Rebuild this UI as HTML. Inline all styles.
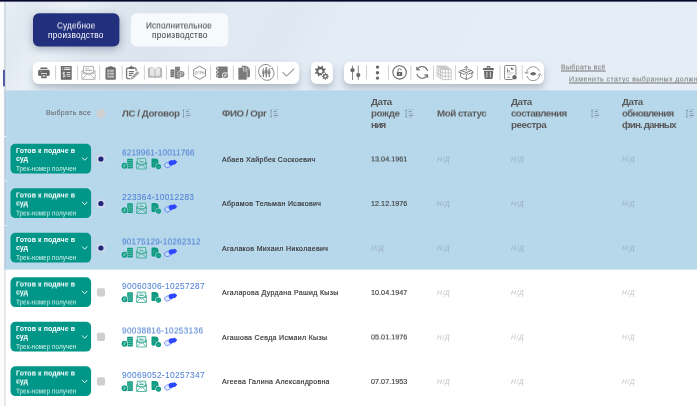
<!DOCTYPE html>
<html lang="ru"><head><meta charset="utf-8"><title>Судебное производство</title>
<style>
html,body{margin:0;padding:0;width:697px;height:406px;overflow:hidden;background:#fff;}
#page{position:relative;width:697px;height:406px;overflow:hidden;background:#fff;font-family:"Liberation Sans",sans-serif;}
.abs{position:absolute;}
.t{text-decoration-thickness:0.7px;text-underline-offset:1px;position:absolute;white-space:nowrap;line-height:12px;font-family:"Liberation Sans",sans-serif;}
#topbg{left:0;top:0;width:697px;height:91px;background:linear-gradient(180deg,rgba(255,255,255,0) 0,rgba(255,255,255,0) 1.6px,rgba(255,255,255,.55) 1.9px,rgba(255,255,255,0) 3.4px),linear-gradient(118deg,#e8f0f6 0%,#e1e9f0 5%,#eaf1f7 10%,#dee7ef 16%,#dce5ee 25%,#e1eaf2 33%,#dfe8f1 40%,#e4edf5 48%,#e5eef6 100%);}
#topbar{left:0;top:0;width:697px;height:1.6px;background:#05052d;box-shadow:0 0 0.7px rgba(5,5,45,.7);}
.tab{position:absolute;top:13.3px;height:33.2px;border-radius:6px;}
#tab1{left:33px;width:86.5px;box-shadow:0 3px 9px rgba(40,50,90,.36);}

.tb{position:absolute;top:62px;height:21.6px;border-radius:6px;box-shadow:0 4px 7px rgba(80,90,110,.34);}
svg{position:absolute;overflow:visible;}
.t{text-decoration-thickness:0.7px;text-underline-offset:1px;transform-origin:0 50%;will-change:transform;}
.h{transform:translateY(0.5px) rotate(0.01deg);}
#stripsh{display:none;}

</style></head>
<body>
<div id="page">
<div class="abs" id="topbg"></div>
<div class="tab" id="tab1"></div>
<div class="tb" style="left:33px;width:266px"></div>
<div class="tb" style="left:311px;width:22px"></div>
<div class="tb" style="left:344px;width:200px"></div>
<div class="abs" id="stripsh"></div>
<svg id="ico" width="697" height="406" viewBox="0 0 697 406" style="left:0;top:0">
<rect x="33" y="13.3" width="86.50" height="33.20" rx="6" fill="#222f7d" />
<rect x="130.8" y="13.3" width="97.50" height="33.20" rx="6" fill="#f7fafd" />
<rect x="32.75" y="61.75" width="266.50" height="21.90" rx="6" fill="#fff" />
<rect x="311" y="61.75" width="21.70" height="21.90" rx="5.5" fill="#fff" />
<rect x="344" y="61.75" width="200.00" height="21.90" rx="6" fill="#fff" />
<defs><linearGradient id="selg" x1="0" y1="0" x2="1" y2="0"><stop offset="0" stop-color="#c3ddee"/><stop offset="0.003" stop-color="#bcdaec"/><stop offset="0.0065" stop-color="#b7d7ea"/></linearGradient><linearGradient id="strg" x1="0" y1="0" x2="1" y2="0"><stop offset="0" stop-color="#788aa0" stop-opacity="0.42"/><stop offset="1" stop-color="#788aa0" stop-opacity="0"/></linearGradient></defs>
<rect x="4.2" y="90.4" width="693" height="179.2" fill="url(#selg)"/>
<rect x="4.2" y="1.7" width="2.2" height="405" fill="url(#strg)"/>
<rect x="0" y="1.7" width="4.25" height="405" fill="#fcfcfc"/>
<rect x="3" y="69.8" width="1.9" height="16.5" fill="#4c56a0"/>
<rect x="4.4" y="136.0" width="2.3" height="0.9" fill="#fff" fill-opacity="0.85"/>
<rect x="4.4" y="180.4" width="2.3" height="0.9" fill="#fff" fill-opacity="0.85"/>
<rect x="4.4" y="225.0" width="2.3" height="0.9" fill="#fff" fill-opacity="0.85"/>
<rect x="96.9" y="109.4" width="8.10" height="8.10" rx="1.7" fill="#cfcfcf" />
<rect x="55.10" y="65.5" width="1" height="14.2" fill="#d0d0d0"/>
<rect x="77.00" y="65.5" width="1" height="14.2" fill="#d0d0d0"/>
<rect x="99.10" y="65.5" width="1" height="14.2" fill="#d0d0d0"/>
<rect x="121.70" y="65.5" width="1" height="14.2" fill="#d0d0d0"/>
<rect x="143.90" y="65.5" width="1" height="14.2" fill="#d0d0d0"/>
<rect x="166.00" y="65.5" width="1" height="14.2" fill="#d0d0d0"/>
<rect x="188.00" y="65.5" width="1" height="14.2" fill="#d0d0d0"/>
<rect x="210.10" y="65.5" width="1" height="14.2" fill="#d0d0d0"/>
<rect x="232.90" y="65.5" width="1" height="14.2" fill="#d0d0d0"/>
<rect x="255.10" y="65.5" width="1" height="14.2" fill="#d0d0d0"/>
<rect x="277.00" y="65.5" width="1" height="14.2" fill="#d0d0d0"/>
<rect x="366.00" y="65.5" width="1" height="14.2" fill="#d0d0d0"/>
<rect x="388.00" y="65.5" width="1" height="14.2" fill="#d0d0d0"/>
<rect x="410.40" y="65.5" width="1" height="14.2" fill="#d0d0d0"/>
<rect x="433.00" y="65.5" width="1" height="14.2" fill="#d0d0d0"/>
<rect x="454.90" y="65.5" width="1" height="14.2" fill="#d0d0d0"/>
<rect x="477.00" y="65.5" width="1" height="14.2" fill="#d0d0d0"/>
<rect x="499.50" y="65.5" width="1" height="14.2" fill="#d0d0d0"/>
<rect x="521.70" y="65.5" width="1" height="14.2" fill="#d0d0d0"/>
<defs><radialGradient id="dotg" cx="0.5" cy="0.5" r="0.5"><stop offset="0" stop-color="#1e2677"/><stop offset="0.56" stop-color="#1e2677"/><stop offset="0.76" stop-color="#d3d8ed"/><stop offset="1" stop-color="#d3d8ed"/></radialGradient></defs>
<rect x="10.5" y="143.75" width="80.60" height="29.85" rx="5" fill="#009688" />
<rect x="96.9" y="154.9" width="8.10" height="8.10" rx="1.8" fill="#d3d8ed" />
<circle cx="100.9" cy="159.00" r="2.6" fill="#1e2677"/>
<rect x="10.5" y="188.25" width="80.60" height="29.85" rx="5" fill="#009688" />
<rect x="96.9" y="199.4" width="8.10" height="8.10" rx="1.8" fill="#d3d8ed" />
<circle cx="100.9" cy="203.50" r="2.6" fill="#1e2677"/>
<rect x="10.5" y="232.75" width="80.60" height="29.85" rx="5" fill="#009688" />
<rect x="96.9" y="243.9" width="8.10" height="8.10" rx="1.8" fill="#d3d8ed" />
<circle cx="100.9" cy="248.00" r="2.6" fill="#1e2677"/>
<rect x="10.5" y="277.25" width="80.60" height="29.85" rx="5" fill="#009688" />
<rect x="96.9" y="288.35" width="8.10" height="8.10" rx="1.7" fill="#cfcfcf" />
<rect x="10.5" y="321.75" width="80.60" height="29.85" rx="5" fill="#009688" />
<rect x="96.9" y="332.85" width="8.10" height="8.10" rx="1.7" fill="#cfcfcf" />
<rect x="10.5" y="366.25" width="80.60" height="29.85" rx="5" fill="#009688" />
<rect x="96.9" y="377.35" width="8.10" height="8.10" rx="1.7" fill="#cfcfcf" />
<g fill="#686868" transform="translate(0,0.3)">
<rect x="40.3" y="67.2" width="7.2" height="1.5" rx="0.4"/>
<path d="M39.6 69.4 h8.6 a1.5 1.5 0 0 1 1.5 1.5 v3.4 a1.3 1.3 0 0 1 -1.3 1.3 h-1.6 v-2.6 h-5.8 v2.6 h-1.6 a1.3 1.3 0 0 1 -1.3 -1.3 v-3.4 a1.5 1.5 0 0 1 1.5 -1.5z"/>
<path d="M41.2 73.6 h5.4 v3.8 a0.5 0.5 0 0 1 -0.5 0.5 h-4.4 a0.5 0.5 0 0 1 -0.5 -0.5z"/>
<rect x="42.6" y="74.8" width="2.6" height="1.8" fill="#c9c9c9"/>
<rect x="40.2" y="70.6" width="1.3" height="0.7" fill="#bdbdbd"/>
</g>
<g>
<path d="M60.8 65.9 h10.9 v14.1 l-0.9 -0.6 l-0.9 0.6 l-0.9 -0.6 l-0.9 0.6 l-0.9 -0.6 l-0.9 0.6 l-0.9 -0.6 l-0.9 0.6 l-0.9 -0.6 l-0.9 0.6 l-0.9 -0.6 l-0.9 0.6z" fill="#686868"/>
<g fill="#ececec">
<rect x="64.2" y="67.3" width="6.2" height="1.05"/><rect x="64.2" y="69.0" width="6.2" height="1.05"/>
<rect x="62.4" y="67.4" width="0.9" height="0.9"/><rect x="62.4" y="69.0" width="0.9" height="0.9"/>
<rect x="66.6" y="72.0" width="3.8" height="0.9"/><rect x="66.6" y="73.9" width="3.8" height="0.9"/><rect x="66.6" y="75.8" width="3.8" height="0.9"/>
</g>
<path d="M65.2 73.1 q-0.4 -0.8 -1.3 -0.8 q-1.2 0 -1.2 1.1 q0 0.9 1.2 1.1 q1.4 0.2 1.4 1.2 q0 1.1 -1.4 1.1 q-1 0 -1.4 -0.9 M63.9 71.6 v6" fill="none" stroke="#f2f2f2" stroke-width="0.75"/>
</g>
<g fill="none" stroke="#a6a6a6" stroke-width="0.85" stroke-linejoin="round">
<rect x="83.5" y="66.4" width="10" height="7" fill="#fafafa"/>
<path d="M81.9 70.6 v8.2 a0.6 0.6 0 0 0 0.6 0.6 h12 a0.6 0.6 0 0 0 0.6 -0.6 v-8.2"/>
<path d="M81.9 70.6 l6.6 4.4 l6.6 -4.4"/>
<path d="M82.1 79.2 l4.9 -5.2 M94.9 79.2 l-4.9 -5.2"/>
<path d="M85.2 68.3 h3.6" stroke-width="0.6"/>
<path d="M85.2 70.4 h6.6" stroke-width="1.3" stroke="#b4b4b4"/>
</g>
<g>
<rect x="105.5" y="67.3" width="10.3" height="12.5" rx="1.5" fill="#686868"/>
<rect x="106.9" y="69.1" width="7.5" height="9.4" rx="0.4" fill="#8c8c8c"/>
<path d="M108 68.9 v-2.1 h1.5 a1.2 1.2 0 0 1 2.3 0 h1.5 v2.1z" fill="#686868"/>
<g fill="#cdcdcd">
<rect x="107.4" y="70.1" width="1.5" height="1.5"/><rect x="109.6" y="70.25" width="4.3" height="1.2"/>
<rect x="107.4" y="73.0" width="1.5" height="1.5"/><rect x="109.6" y="73.15" width="4.3" height="1.2"/>
<rect x="107.4" y="75.9" width="1.5" height="1.5"/><rect x="109.6" y="76.05" width="4.3" height="1.2"/>
</g></g>
<g>
<path d="M129.3 68 h-1.4 a1.3 1.3 0 0 0 -1.3 1.3 v8 a1.3 1.3 0 0 0 1.3 1.3 h1.7 M133.4 68 h1.4 a1.3 1.3 0 0 1 1.3 1.3 v1.3" fill="none" stroke="#7c7c7c" stroke-width="1.4" stroke-linecap="round"/>
<path d="M128.8 68.9 v-2 h1.4 a1.15 1.15 0 0 1 2.3 0 h1.4 v2z" fill="#6e6e6e"/>
<path d="M128.8 71.5 h5.2 M128.8 73.4 h4.8 M128.8 75.3 h3.0" stroke="#747474" stroke-width="1.15"/>
<path d="M137.5 71.0 l1.9 1.9 l-6.1 5.9 l-3.1 1.1 l1.2 -3.0z" fill="#a4a4a4"/>
<path d="M131.5 76.8 l1.9 1.9" stroke="#f0f0f0" stroke-width="0.4"/>
</g>
<g stroke="#a8a8a8" stroke-width="0.8" fill="#dcdcdc" stroke-linejoin="round">
<path d="M148.4 68.6 h1 v-0.7 c2.2 -0.5 4.2 0 5.6 1.2 c1.4 -1.2 3.4 -1.7 5.6 -1.2 v0.7 h1 v8.6 h-5.4 l-0.5 0.5 h-1.4 l-0.5 -0.5 h-5.4z"/>
<path d="M149.4 68 v8.2 c2.2 -0.4 4.2 0 5.6 1 c1.4 -1 3.4 -1.4 5.6 -1 v-8.2" fill="#e6e6e6"/>
<path d="M155 69.1 v8.1"/>
</g>
<g fill="#7a7a7a"><rect x="170.6" y="69.8" width="3.7" height="7.2" fill="#b4b4b4"/><rect x="175.1" y="67.2" width="4.8" height="11.2" fill="#b4b4b4"/><rect x="170.4" y="69.40" width="4.1" height="1.75" rx="0.6"/><rect x="170.4" y="71.40" width="4.1" height="1.75" rx="0.6"/><rect x="170.4" y="73.40" width="4.1" height="1.75" rx="0.6"/><rect x="170.4" y="75.40" width="4.1" height="1.75" rx="0.6"/><rect x="174.9" y="66.80" width="5.2" height="1.75" rx="0.6"/><rect x="174.9" y="68.80" width="5.2" height="1.75" rx="0.6"/><rect x="174.9" y="70.80" width="5.2" height="1.75" rx="0.6"/><rect x="174.9" y="72.80" width="5.2" height="1.75" rx="0.6"/><rect x="174.9" y="74.80" width="5.2" height="1.75" rx="0.6"/><rect x="174.9" y="76.80" width="5.2" height="1.75" rx="0.6"/>
<circle cx="181.2" cy="74.1" r="3.7" fill="#fff"/><circle cx="181.2" cy="74.1" r="3.2"/>
<circle cx="181.2" cy="74.1" r="2.3" fill="none" stroke="#c4c4c4" stroke-width="0.4"/>
<path d="M180.6 76 v-3.6 h1 a0.95 0.95 0 0 1 0 1.9 h-1.6 M180 75.2 h1.7" fill="none" stroke="#f0f0f0" stroke-width="0.55"/>
</g>
<g>
<path d="M199.6 66.2 L205.5 69.5 L205.5 76 L199.6 79.3 L193.7 76 L193.7 69.5Z" fill="none" stroke="#858585" stroke-width="0.95" stroke-linejoin="round"/>
<g fill="none" stroke="#999" stroke-width="0.55">
<path d="M197.1 71.4 h-1.4 v2.8 h1.4 M195.7 72.8 h1.1"/>
<path d="M198 74.2 v-2.8 h1.4"/>
<path d="M200.2 74.2 v-2.8 h0.8 a0.75 0.75 0 0 1 0 1.5 h-0.8"/>
<path d="M202.4 71.4 v2.8 M203.9 71.4 v2.8 M202.4 72.8 h1.5"/>
</g></g>
<g>
<rect x="217.4" y="66.5" width="10.3" height="11.4" rx="1.1" fill="#7a7a7a"/>
<g fill="#7a7a7a"><circle cx="217.5" cy="68.4" r="1.6"/><circle cx="217.5" cy="72.1" r="1.6"/><circle cx="217.5" cy="75.7" r="1.6"/></g>
<g fill="#f0f0f0"><circle cx="217.7" cy="68.4" r="0.8"/><circle cx="217.7" cy="72.1" r="0.8"/><circle cx="217.7" cy="75.7" r="0.8"/></g>
<circle cx="225.4" cy="75.5" r="3.3" fill="#fff"/><circle cx="225.4" cy="75.5" r="2.7" fill="#8a8a8a"/>
<path d="M224.9 77.2 v-3.3 h0.9 a0.85 0.85 0 0 1 0 1.7 h-1.5 M224.3 76.4 h1.6" fill="none" stroke="#f0f0f0" stroke-width="0.5"/>
</g>
<g>
<path d="M242.6 65.8 h4 l3.3 3.3 v7.2 a1 1 0 0 1 -1 1 h-6.3 a1 1 0 0 1 -1 -1 v-9.5 a1 1 0 0 1 1 -1z" fill="#7a7a7a"/>
<path d="M239.1 67.4 h4.3 l3.7 3.7 v7.8 a1 1 0 0 1 -1 1 h-7 a1 1 0 0 1 -1 -1 v-10.5 a1 1 0 0 1 1 -1z" fill="#7a7a7a" stroke="#fff" stroke-width="0.5"/>
<path d="M246.3 66 v3.4 h3.4" fill="none" stroke="#e8e8e8" stroke-width="0.6"/>
<path d="M243.5 67.6 v3.4 h3.4" fill="none" stroke="#f2f2f2" stroke-width="0.6"/>
</g>
<g>
<path d="M270.9 66.9 A7 7 0 0 0 260.2 76" fill="none" stroke="#848484" stroke-width="0.95"/>
<path d="M261.7 77.9 A7 7 0 0 0 272.4 68.8" fill="none" stroke="#848484" stroke-width="0.95"/>
<path d="M272.9 67.0 l-0.2 2.2 l-2.2 -0.4z" fill="#848484"/>
<path d="M259.7 77.8 l0.2 -2.2 l2.2 0.4z" fill="#848484"/>
<g fill="#808080">
<circle cx="266.3" cy="68.0" r="0.9"/><path d="M265.2 69.2 h2.2 l0.3 4.2 h-0.55 l-0.25 4 h-1.2 l-0.25 -4 h-0.55z"/>
<circle cx="263.4" cy="69.1" r="0.8"/><path d="M262.4 70.2 h2.0 l0.25 3.6 h-0.5 l-0.2 3.4 h-1.1 l-0.2 -3.4 h-0.5z"/>
<circle cx="269.2" cy="69.1" r="0.8"/><path d="M268.2 70.2 h2.0 l0.25 3.6 h-0.5 l-0.2 3.4 h-1.1 l-0.2 -3.4 h-0.5z"/>
</g></g>
<path d="M283 72.5 L286.5 76.1 L293.9 68.9" fill="none" stroke="#686868" stroke-width="1" stroke-linecap="round" stroke-linejoin="round"/>
<path d="M324.53 71.90 L325.81 72.59 L325.24 73.96 L323.86 73.54 L322.79 74.61 L323.21 75.99 L321.84 76.56 L321.15 75.28 L319.65 75.28 L318.96 76.56 L317.59 75.99 L318.01 74.61 L316.94 73.54 L315.56 73.96 L314.99 72.59 L316.27 71.90 L316.27 70.40 L314.99 69.71 L315.56 68.34 L316.94 68.76 L318.01 67.69 L317.59 66.31 L318.96 65.74 L319.65 67.02 L321.15 67.02 L321.84 65.74 L323.21 66.31 L322.79 67.69 L323.86 68.76 L325.24 68.34 L325.81 69.71 L324.53 70.40Z" fill="#686868"/><circle cx="320.4" cy="71.15" r="2.0" fill="#fff"/>
<circle cx="325.4" cy="76.4" r="3.9" fill="#fff"/>
<path d="M327.84 75.87 L328.77 75.95 L328.77 76.85 L327.84 76.93 L327.50 77.76 L328.10 78.46 L327.46 79.10 L326.76 78.50 L325.93 78.84 L325.85 79.77 L324.95 79.77 L324.87 78.84 L324.04 78.50 L323.34 79.10 L322.70 78.46 L323.30 77.76 L322.96 76.93 L322.03 76.85 L322.03 75.95 L322.96 75.87 L323.30 75.04 L322.70 74.34 L323.34 73.70 L324.04 74.30 L324.87 73.96 L324.95 73.03 L325.85 73.03 L325.93 73.96 L326.76 74.30 L327.46 73.70 L328.10 74.34 L327.50 75.04Z" fill="#686868"/><circle cx="325.4" cy="76.4" r="1.1" fill="#fff"/>
<g stroke="#686868" stroke-width="0.8" fill="#686868">
<path d="M352.5 65.6 V80 M358.3 65.6 V80"/>
<circle cx="352.5" cy="70.2" r="2.1" stroke="none"/><circle cx="358.3" cy="75.1" r="2.1" stroke="none"/></g>
<g fill="#686868"><circle cx="377.5" cy="67.1" r="1.7"/><circle cx="377.5" cy="72.7" r="1.7"/><circle cx="377.5" cy="78.1" r="1.7"/></g>
<g>
<circle cx="399.6" cy="72.4" r="6.7" fill="none" stroke="#686868" stroke-width="1.1"/>
<rect x="396.8" y="72" width="5.4" height="4" rx="0.5" fill="#686868"/>
<path d="M397.9 72 v-1.4 a1.7 1.7 0 0 1 3.4 -0.3" fill="none" stroke="#686868" stroke-width="0.9"/>
<rect x="399.1" y="73.3" width="0.9" height="1.4" fill="#ddd"/>
</g>
<g fill="none" stroke="#686868" stroke-width="1.05" stroke-linecap="round">
<path d="M417.2 69.6 A5.5 5.5 0 0 1 427.4 70.6"/>
<path d="M427.2 75.2 A5.5 5.5 0 0 1 417 74.2"/>
<path d="M416.6 67.3 l0.4 2.7 l2.7 -0.3" stroke-linejoin="round"/>
<path d="M427.8 77.5 l-0.4 -2.7 l-2.7 0.3" stroke-linejoin="round"/>
</g>
<g fill="none" stroke="#a9a9a9" stroke-width="0.6">
<path d="M437 66 L446 66 L451.3 69.6 L451.3 79.6 L442.3 79.6 L437 76Z" stroke-linejoin="round"/>
<path d="M437 66 L442.3 69.6 L451.3 69.6 M442.3 69.6 V79.6"/>
<path d="M445.3 69.6 V79.6 M448.3 69.6 V79.6 M442.3 72.9 H451.3 M442.3 76.2 H451.3"/>
<path d="M438.8 67.2 V77.2 M440.5 68.4 V78.4 M437 69.3 L442.3 72.9 M437 72.6 L442.3 76.2"/>
<path d="M440 66 L445.3 69.6 M443 66 L448.3 69.6 M438.8 67.2 H447.8 M440.5 68.4 H449.5"/>
</g>
<g fill="none" stroke="#686868" stroke-width="0.8" stroke-linejoin="round" stroke-linecap="round">
<path d="M460.6 72.6 V77 L466.3 79.4 L472 77 V72.6"/>
<path d="M466.3 74.3 V79.4"/>
<path d="M461 70.6 L466.3 72.4 L471.6 70.6 L473.4 72.4 L468.2 74.3 L466.3 72.4 L464.4 74.3 L459.2 72.4Z"/>
<path d="M461 70.6 L464.8 69.4 M471.6 70.6 L467.8 69.4"/>
<path d="M466.3 70.6 V66.3 M464.9 67.6 L466.3 66.1 L467.7 67.6"/>
</g>
<g fill="#686868">
<path d="M486.6 68.1 v-1.1 a0.9 0.9 0 0 1 0.9 -0.9 h2 a0.9 0.9 0 0 1 0.9 0.9 v1.1 h-0.9 v-0.9 h-2 v0.9z"/>
<rect x="483" y="68" width="10.9" height="1.9" rx="0.5"/>
<path d="M484 70.8 h9.2 l-0.5 7 a1.3 1.3 0 0 1 -1.3 1.2 h-5.6 a1.3 1.3 0 0 1 -1.3 -1.2z"/>
<rect x="486.5" y="71.8" width="0.8" height="5.8" fill="#f4f4f4"/><rect x="489.9" y="71.8" width="0.8" height="5.8" fill="#f4f4f4"/>
</g>
<g>
<rect x="504.6" y="65.5" width="11.3" height="14" rx="1" fill="none" stroke="#7a7a7a" stroke-width="0.9"/>
<rect x="507" y="68.3" width="0.9" height="3.9" fill="#7a7a7a"/><rect x="508.7" y="70" width="0.9" height="2.2" fill="#7a7a7a"/>
<circle cx="512.2" cy="68.6" r="1.5" fill="#7a7a7a"/><path d="M512.2 68.6 v-1.9 a1.9 1.9 0 0 1 1.9 1.9z" fill="#fff"/>
<path d="M506.8 72.9 h7.2" stroke="#999" stroke-width="0.5"/>
<path d="M507 74.7 h4.6" stroke="#aaa" stroke-width="0.5"/>
<path d="M507 77.2 h3.2" stroke="#7a7a7a" stroke-width="0.8"/>
<circle cx="514.5" cy="77.3" r="2.8" fill="#fff"/><circle cx="514.5" cy="77.3" r="2.2" fill="#686868"/>
</g>
<g fill="none" stroke="#7a7a7a" stroke-width="0.8" stroke-linecap="round" stroke-linejoin="round">
<path d="M526.6 72.6 A6.6 6.6 0 0 1 539.3 71"/>
<path d="M539.7 74.8 A6.6 6.6 0 0 1 527 76.4"/>
<path d="M524.8 72.1 l1.8 1.8 l1.7 -1.8"/>
<path d="M538 75.3 l1.7 -1.8 l1.8 1.8"/>
<path d="M529.9 73.7 q3.3 -3.6 6.6 0 q-3.3 3.6 -6.6 0z" fill="#686868" stroke="none"/>
</g>
<g fill="none"><path d="M183.5 109.9 V117.2" stroke="#74879a" stroke-width="0.6"/><path d="M182.5 110.7 L183.5 109.3 L184.5 110.7Z M182.5 116.4 L183.5 117.8 L184.5 116.4Z" fill="#74879a"/><path d="M186.1 109.70 h4.5" stroke="#94aabc" stroke-width="0.6"/><path d="M186.1 111.60 h2.9" stroke="#6f808f" stroke-width="0.8"/><path d="M186.1 113.50 h4.5" stroke="#94aabc" stroke-width="0.6"/><path d="M186.1 115.40 h4.5" stroke="#6f808f" stroke-width="0.8"/><path d="M186.1 117.30 h3.0" stroke="#94aabc" stroke-width="0.6"/></g>
<g fill="none"><path d="M271.1 109.9 V117.2" stroke="#74879a" stroke-width="0.6"/><path d="M270.1 110.7 L271.1 109.3 L272.1 110.7Z M270.1 116.4 L271.1 117.8 L272.1 116.4Z" fill="#74879a"/><path d="M273.7 109.70 h4.5" stroke="#94aabc" stroke-width="0.6"/><path d="M273.7 111.60 h2.9" stroke="#6f808f" stroke-width="0.8"/><path d="M273.7 113.50 h4.5" stroke="#94aabc" stroke-width="0.6"/><path d="M273.7 115.40 h4.5" stroke="#6f808f" stroke-width="0.8"/><path d="M273.7 117.30 h3.0" stroke="#94aabc" stroke-width="0.6"/></g>
<g fill="none"><path d="M406.1 109.9 V117.2" stroke="#74879a" stroke-width="0.6"/><path d="M405.1 110.7 L406.1 109.3 L407.1 110.7Z M405.1 116.4 L406.1 117.8 L407.1 116.4Z" fill="#74879a"/><path d="M408.7 109.70 h4.5" stroke="#94aabc" stroke-width="0.6"/><path d="M408.7 111.60 h2.9" stroke="#6f808f" stroke-width="0.8"/><path d="M408.7 113.50 h4.5" stroke="#94aabc" stroke-width="0.6"/><path d="M408.7 115.40 h4.5" stroke="#6f808f" stroke-width="0.8"/><path d="M408.7 117.30 h3.0" stroke="#94aabc" stroke-width="0.6"/></g>
<g fill="none"><path d="M592.1 109.9 V117.2" stroke="#74879a" stroke-width="0.6"/><path d="M591.1 110.7 L592.1 109.3 L593.1 110.7Z M591.1 116.4 L592.1 117.8 L593.1 116.4Z" fill="#74879a"/><path d="M594.7 109.70 h4.5" stroke="#94aabc" stroke-width="0.6"/><path d="M594.7 111.60 h2.9" stroke="#6f808f" stroke-width="0.8"/><path d="M594.7 113.50 h4.5" stroke="#94aabc" stroke-width="0.6"/><path d="M594.7 115.40 h4.5" stroke="#6f808f" stroke-width="0.8"/><path d="M594.7 117.30 h3.0" stroke="#94aabc" stroke-width="0.6"/></g>
<g fill="none"><path d="M686.9 109.9 V117.2" stroke="#74879a" stroke-width="0.6"/><path d="M685.9 110.7 L686.9 109.3 L687.9 110.7Z M685.9 116.4 L686.9 117.8 L687.9 116.4Z" fill="#74879a"/><path d="M689.5 109.70 h4.5" stroke="#94aabc" stroke-width="0.6"/><path d="M689.5 111.60 h2.9" stroke="#6f808f" stroke-width="0.8"/><path d="M689.5 113.50 h4.5" stroke="#94aabc" stroke-width="0.6"/><path d="M689.5 115.40 h4.5" stroke="#6f808f" stroke-width="0.8"/><path d="M689.5 117.30 h3.0" stroke="#94aabc" stroke-width="0.6"/></g>
<g transform="translate(0,0.0)"><g><rect x="127.1" y="158.65" width="5.8" height="9.85" rx="0.9" fill="#0e9a80"/><path d="M127.3 160.62 h5.4" stroke="#9adccc" stroke-width="0.5"/><path d="M127.3 162.59 h5.4" stroke="#9adccc" stroke-width="0.5"/><path d="M127.3 164.56 h5.4" stroke="#9adccc" stroke-width="0.5"/><path d="M127.3 166.53 h5.4" stroke="#9adccc" stroke-width="0.5"/><circle cx="124.55" cy="165.8" r="3.45" fill="#b7d7ea"/><circle cx="124.55" cy="165.8" r="2.95" fill="#0e9a80"/><path d="M124.0 167.4 v-3.1 h0.9 a0.8 0.8 0 0 1 0 1.6 h-1.4 M123.5 166.7 h1.5" fill="none" stroke="#a8e0d2" stroke-width="0.5"/></g><g fill="none" stroke="#33a890" stroke-width="0.8" stroke-linejoin="round">
<rect x="137.3" y="158.6" width="8.4" height="5.6" fill="#cfe9ea" fill-opacity="0.5"/>
<path d="M136.6 162 v6.5 a0.5 0.5 0 0 0 0.5 0.5 h8.8 a0.5 0.5 0 0 0 0.5 -0.5 v-6.5"/>
<path d="M136.6 162 l4.9 3.5 l4.9 -3.5"/>
<path d="M136.8 168.8 l3.6 -3.9 M146.2 168.8 l-3.6 -3.9"/>
<path d="M139.3 160.1 h2.4" stroke-width="0.5"/><path d="M139.3 161.8 h4.4" stroke-width="1"/>
</g><g fill="#0e9a80"><path d="M152.3 158.4 h2.8 a3.4 3.4 0 0 1 3.4 3.4 v4.8 a0.8 0.8 0 0 1 -0.8 0.8 h-5.4 a0.8 0.8 0 0 1 -0.8 -0.8 v-7.4 a0.8 0.8 0 0 1 0.8 -0.8z"/>
<path d="M153 162.4 h3.4 M153 163.7 h2.2" stroke="#55bda7" stroke-width="0.4"/>
<circle cx="158.5" cy="166.6" r="3.1" fill="#b7d7ea"/><circle cx="158.5" cy="166.6" r="2.6"/>
<path d="M157.4 166.7 l0.8 0.8 l1.5 -1.6" fill="none" stroke="#7fd0bd" stroke-width="0.5"/></g><g><path d="M164.2 164.6 q2.2 -2.4 4.8 -2.6 l3.2 2.7 q-2.6 2.8 -5.4 3.1 q-1.8 -0.6 -2.6 -3.2z" fill="#c9dcf7" fill-opacity="0.55" stroke="#2d47ff" stroke-width="0.7" stroke-opacity="0.8"/>
<path d="M168.6 162.6 q0.4 -1.8 2.2 -2.3 l2.9 -0.1 l0.8 -0.6 l2.8 2.4 l-2.5 2.7 l-0.9 -0.4 q-2.2 1.5 -4 1.1 q-1.4 -0.5 -1.3 -2.8z" fill="#2d47ff"/></g></g>
<path d="M82.3 157.75 L84.7 160.25 L87.1 157.75" fill="none" stroke="#fff" stroke-width="0.9" stroke-linecap="round" stroke-linejoin="round"/>
<g transform="translate(0,44.5)"><g><rect x="127.1" y="158.65" width="5.8" height="9.85" rx="0.9" fill="#0e9a80"/><path d="M127.3 160.62 h5.4" stroke="#9adccc" stroke-width="0.5"/><path d="M127.3 162.59 h5.4" stroke="#9adccc" stroke-width="0.5"/><path d="M127.3 164.56 h5.4" stroke="#9adccc" stroke-width="0.5"/><path d="M127.3 166.53 h5.4" stroke="#9adccc" stroke-width="0.5"/><circle cx="124.55" cy="165.8" r="3.45" fill="#b7d7ea"/><circle cx="124.55" cy="165.8" r="2.95" fill="#0e9a80"/><path d="M124.0 167.4 v-3.1 h0.9 a0.8 0.8 0 0 1 0 1.6 h-1.4 M123.5 166.7 h1.5" fill="none" stroke="#a8e0d2" stroke-width="0.5"/></g><g fill="none" stroke="#33a890" stroke-width="0.8" stroke-linejoin="round">
<rect x="137.3" y="158.6" width="8.4" height="5.6" fill="#cfe9ea" fill-opacity="0.5"/>
<path d="M136.6 162 v6.5 a0.5 0.5 0 0 0 0.5 0.5 h8.8 a0.5 0.5 0 0 0 0.5 -0.5 v-6.5"/>
<path d="M136.6 162 l4.9 3.5 l4.9 -3.5"/>
<path d="M136.8 168.8 l3.6 -3.9 M146.2 168.8 l-3.6 -3.9"/>
<path d="M139.3 160.1 h2.4" stroke-width="0.5"/><path d="M139.3 161.8 h4.4" stroke-width="1"/>
</g><g fill="#0e9a80"><path d="M152.3 158.4 h2.8 a3.4 3.4 0 0 1 3.4 3.4 v4.8 a0.8 0.8 0 0 1 -0.8 0.8 h-5.4 a0.8 0.8 0 0 1 -0.8 -0.8 v-7.4 a0.8 0.8 0 0 1 0.8 -0.8z"/>
<path d="M153 162.4 h3.4 M153 163.7 h2.2" stroke="#55bda7" stroke-width="0.4"/>
<circle cx="158.5" cy="166.6" r="3.1" fill="#b7d7ea"/><circle cx="158.5" cy="166.6" r="2.6"/>
<path d="M157.4 166.7 l0.8 0.8 l1.5 -1.6" fill="none" stroke="#7fd0bd" stroke-width="0.5"/></g><g><path d="M164.2 164.6 q2.2 -2.4 4.8 -2.6 l3.2 2.7 q-2.6 2.8 -5.4 3.1 q-1.8 -0.6 -2.6 -3.2z" fill="#c9dcf7" fill-opacity="0.55" stroke="#2d47ff" stroke-width="0.7" stroke-opacity="0.8"/>
<path d="M168.6 162.6 q0.4 -1.8 2.2 -2.3 l2.9 -0.1 l0.8 -0.6 l2.8 2.4 l-2.5 2.7 l-0.9 -0.4 q-2.2 1.5 -4 1.1 q-1.4 -0.5 -1.3 -2.8z" fill="#2d47ff"/></g></g>
<path d="M82.3 202.25 L84.7 204.75 L87.1 202.25" fill="none" stroke="#fff" stroke-width="0.9" stroke-linecap="round" stroke-linejoin="round"/>
<g transform="translate(0,89.0)"><g><rect x="127.1" y="158.65" width="5.8" height="9.85" rx="0.9" fill="#0e9a80"/><path d="M127.3 160.62 h5.4" stroke="#9adccc" stroke-width="0.5"/><path d="M127.3 162.59 h5.4" stroke="#9adccc" stroke-width="0.5"/><path d="M127.3 164.56 h5.4" stroke="#9adccc" stroke-width="0.5"/><path d="M127.3 166.53 h5.4" stroke="#9adccc" stroke-width="0.5"/><circle cx="124.55" cy="165.8" r="3.45" fill="#b7d7ea"/><circle cx="124.55" cy="165.8" r="2.95" fill="#0e9a80"/><path d="M124.0 167.4 v-3.1 h0.9 a0.8 0.8 0 0 1 0 1.6 h-1.4 M123.5 166.7 h1.5" fill="none" stroke="#a8e0d2" stroke-width="0.5"/></g><g fill="none" stroke="#33a890" stroke-width="0.8" stroke-linejoin="round">
<rect x="137.3" y="158.6" width="8.4" height="5.6" fill="#cfe9ea" fill-opacity="0.5"/>
<path d="M136.6 162 v6.5 a0.5 0.5 0 0 0 0.5 0.5 h8.8 a0.5 0.5 0 0 0 0.5 -0.5 v-6.5"/>
<path d="M136.6 162 l4.9 3.5 l4.9 -3.5"/>
<path d="M136.8 168.8 l3.6 -3.9 M146.2 168.8 l-3.6 -3.9"/>
<path d="M139.3 160.1 h2.4" stroke-width="0.5"/><path d="M139.3 161.8 h4.4" stroke-width="1"/>
</g><g fill="#0e9a80"><path d="M152.3 158.4 h2.8 a3.4 3.4 0 0 1 3.4 3.4 v4.8 a0.8 0.8 0 0 1 -0.8 0.8 h-5.4 a0.8 0.8 0 0 1 -0.8 -0.8 v-7.4 a0.8 0.8 0 0 1 0.8 -0.8z"/>
<path d="M153 162.4 h3.4 M153 163.7 h2.2" stroke="#55bda7" stroke-width="0.4"/>
<circle cx="158.5" cy="166.6" r="3.1" fill="#b7d7ea"/><circle cx="158.5" cy="166.6" r="2.6"/>
<path d="M157.4 166.7 l0.8 0.8 l1.5 -1.6" fill="none" stroke="#7fd0bd" stroke-width="0.5"/></g><g><path d="M164.2 164.6 q2.2 -2.4 4.8 -2.6 l3.2 2.7 q-2.6 2.8 -5.4 3.1 q-1.8 -0.6 -2.6 -3.2z" fill="#c9dcf7" fill-opacity="0.55" stroke="#2d47ff" stroke-width="0.7" stroke-opacity="0.8"/>
<path d="M168.6 162.6 q0.4 -1.8 2.2 -2.3 l2.9 -0.1 l0.8 -0.6 l2.8 2.4 l-2.5 2.7 l-0.9 -0.4 q-2.2 1.5 -4 1.1 q-1.4 -0.5 -1.3 -2.8z" fill="#2d47ff"/></g></g>
<path d="M82.3 246.75 L84.7 249.25 L87.1 246.75" fill="none" stroke="#fff" stroke-width="0.9" stroke-linecap="round" stroke-linejoin="round"/>
<g transform="translate(0,133.5)"><g><rect x="127.1" y="158.65" width="5.8" height="9.85" rx="0.9" fill="#0e9a80"/><path d="M127.3 160.62 h5.4" stroke="#9adccc" stroke-width="0.5"/><path d="M127.3 162.59 h5.4" stroke="#9adccc" stroke-width="0.5"/><path d="M127.3 164.56 h5.4" stroke="#9adccc" stroke-width="0.5"/><path d="M127.3 166.53 h5.4" stroke="#9adccc" stroke-width="0.5"/><circle cx="124.55" cy="165.8" r="3.45" fill="#ffffff"/><circle cx="124.55" cy="165.8" r="2.95" fill="#0e9a80"/><path d="M124.0 167.4 v-3.1 h0.9 a0.8 0.8 0 0 1 0 1.6 h-1.4 M123.5 166.7 h1.5" fill="none" stroke="#a8e0d2" stroke-width="0.5"/></g><g fill="none" stroke="#33a890" stroke-width="0.8" stroke-linejoin="round">
<rect x="137.3" y="158.6" width="8.4" height="5.6" fill="#cfe9ea" fill-opacity="0.5"/>
<path d="M136.6 162 v6.5 a0.5 0.5 0 0 0 0.5 0.5 h8.8 a0.5 0.5 0 0 0 0.5 -0.5 v-6.5"/>
<path d="M136.6 162 l4.9 3.5 l4.9 -3.5"/>
<path d="M136.8 168.8 l3.6 -3.9 M146.2 168.8 l-3.6 -3.9"/>
<path d="M139.3 160.1 h2.4" stroke-width="0.5"/><path d="M139.3 161.8 h4.4" stroke-width="1"/>
</g><g fill="#0e9a80"><path d="M152.3 158.4 h2.8 a3.4 3.4 0 0 1 3.4 3.4 v4.8 a0.8 0.8 0 0 1 -0.8 0.8 h-5.4 a0.8 0.8 0 0 1 -0.8 -0.8 v-7.4 a0.8 0.8 0 0 1 0.8 -0.8z"/>
<path d="M153 162.4 h3.4 M153 163.7 h2.2" stroke="#55bda7" stroke-width="0.4"/>
<circle cx="158.5" cy="166.6" r="3.1" fill="#ffffff"/><circle cx="158.5" cy="166.6" r="2.6"/>
<path d="M157.4 166.7 l0.8 0.8 l1.5 -1.6" fill="none" stroke="#7fd0bd" stroke-width="0.5"/></g><g><path d="M164.2 164.6 q2.2 -2.4 4.8 -2.6 l3.2 2.7 q-2.6 2.8 -5.4 3.1 q-1.8 -0.6 -2.6 -3.2z" fill="#c9dcf7" fill-opacity="0.55" stroke="#2d47ff" stroke-width="0.7" stroke-opacity="0.8"/>
<path d="M168.6 162.6 q0.4 -1.8 2.2 -2.3 l2.9 -0.1 l0.8 -0.6 l2.8 2.4 l-2.5 2.7 l-0.9 -0.4 q-2.2 1.5 -4 1.1 q-1.4 -0.5 -1.3 -2.8z" fill="#2d47ff"/></g></g>
<path d="M82.3 291.25 L84.7 293.75 L87.1 291.25" fill="none" stroke="#fff" stroke-width="0.9" stroke-linecap="round" stroke-linejoin="round"/>
<g transform="translate(0,178.0)"><g><rect x="127.1" y="158.65" width="5.8" height="9.85" rx="0.9" fill="#0e9a80"/><path d="M127.3 160.62 h5.4" stroke="#9adccc" stroke-width="0.5"/><path d="M127.3 162.59 h5.4" stroke="#9adccc" stroke-width="0.5"/><path d="M127.3 164.56 h5.4" stroke="#9adccc" stroke-width="0.5"/><path d="M127.3 166.53 h5.4" stroke="#9adccc" stroke-width="0.5"/><circle cx="124.55" cy="165.8" r="3.45" fill="#ffffff"/><circle cx="124.55" cy="165.8" r="2.95" fill="#0e9a80"/><path d="M124.0 167.4 v-3.1 h0.9 a0.8 0.8 0 0 1 0 1.6 h-1.4 M123.5 166.7 h1.5" fill="none" stroke="#a8e0d2" stroke-width="0.5"/></g><g fill="none" stroke="#33a890" stroke-width="0.8" stroke-linejoin="round">
<rect x="137.3" y="158.6" width="8.4" height="5.6" fill="#cfe9ea" fill-opacity="0.5"/>
<path d="M136.6 162 v6.5 a0.5 0.5 0 0 0 0.5 0.5 h8.8 a0.5 0.5 0 0 0 0.5 -0.5 v-6.5"/>
<path d="M136.6 162 l4.9 3.5 l4.9 -3.5"/>
<path d="M136.8 168.8 l3.6 -3.9 M146.2 168.8 l-3.6 -3.9"/>
<path d="M139.3 160.1 h2.4" stroke-width="0.5"/><path d="M139.3 161.8 h4.4" stroke-width="1"/>
</g><g fill="#0e9a80"><path d="M152.3 158.4 h2.8 a3.4 3.4 0 0 1 3.4 3.4 v4.8 a0.8 0.8 0 0 1 -0.8 0.8 h-5.4 a0.8 0.8 0 0 1 -0.8 -0.8 v-7.4 a0.8 0.8 0 0 1 0.8 -0.8z"/>
<path d="M153 162.4 h3.4 M153 163.7 h2.2" stroke="#55bda7" stroke-width="0.4"/>
<circle cx="158.5" cy="166.6" r="3.1" fill="#ffffff"/><circle cx="158.5" cy="166.6" r="2.6"/>
<path d="M157.4 166.7 l0.8 0.8 l1.5 -1.6" fill="none" stroke="#7fd0bd" stroke-width="0.5"/></g><g><path d="M164.2 164.6 q2.2 -2.4 4.8 -2.6 l3.2 2.7 q-2.6 2.8 -5.4 3.1 q-1.8 -0.6 -2.6 -3.2z" fill="#c9dcf7" fill-opacity="0.55" stroke="#2d47ff" stroke-width="0.7" stroke-opacity="0.8"/>
<path d="M168.6 162.6 q0.4 -1.8 2.2 -2.3 l2.9 -0.1 l0.8 -0.6 l2.8 2.4 l-2.5 2.7 l-0.9 -0.4 q-2.2 1.5 -4 1.1 q-1.4 -0.5 -1.3 -2.8z" fill="#2d47ff"/></g></g>
<path d="M82.3 335.75 L84.7 338.25 L87.1 335.75" fill="none" stroke="#fff" stroke-width="0.9" stroke-linecap="round" stroke-linejoin="round"/>
<g transform="translate(0,222.5)"><g><rect x="127.1" y="158.65" width="5.8" height="9.85" rx="0.9" fill="#0e9a80"/><path d="M127.3 160.62 h5.4" stroke="#9adccc" stroke-width="0.5"/><path d="M127.3 162.59 h5.4" stroke="#9adccc" stroke-width="0.5"/><path d="M127.3 164.56 h5.4" stroke="#9adccc" stroke-width="0.5"/><path d="M127.3 166.53 h5.4" stroke="#9adccc" stroke-width="0.5"/><circle cx="124.55" cy="165.8" r="3.45" fill="#ffffff"/><circle cx="124.55" cy="165.8" r="2.95" fill="#0e9a80"/><path d="M124.0 167.4 v-3.1 h0.9 a0.8 0.8 0 0 1 0 1.6 h-1.4 M123.5 166.7 h1.5" fill="none" stroke="#a8e0d2" stroke-width="0.5"/></g><g fill="none" stroke="#33a890" stroke-width="0.8" stroke-linejoin="round">
<rect x="137.3" y="158.6" width="8.4" height="5.6" fill="#cfe9ea" fill-opacity="0.5"/>
<path d="M136.6 162 v6.5 a0.5 0.5 0 0 0 0.5 0.5 h8.8 a0.5 0.5 0 0 0 0.5 -0.5 v-6.5"/>
<path d="M136.6 162 l4.9 3.5 l4.9 -3.5"/>
<path d="M136.8 168.8 l3.6 -3.9 M146.2 168.8 l-3.6 -3.9"/>
<path d="M139.3 160.1 h2.4" stroke-width="0.5"/><path d="M139.3 161.8 h4.4" stroke-width="1"/>
</g><g fill="#0e9a80"><path d="M152.3 158.4 h2.8 a3.4 3.4 0 0 1 3.4 3.4 v4.8 a0.8 0.8 0 0 1 -0.8 0.8 h-5.4 a0.8 0.8 0 0 1 -0.8 -0.8 v-7.4 a0.8 0.8 0 0 1 0.8 -0.8z"/>
<path d="M153 162.4 h3.4 M153 163.7 h2.2" stroke="#55bda7" stroke-width="0.4"/>
<circle cx="158.5" cy="166.6" r="3.1" fill="#ffffff"/><circle cx="158.5" cy="166.6" r="2.6"/>
<path d="M157.4 166.7 l0.8 0.8 l1.5 -1.6" fill="none" stroke="#7fd0bd" stroke-width="0.5"/></g><g><path d="M164.2 164.6 q2.2 -2.4 4.8 -2.6 l3.2 2.7 q-2.6 2.8 -5.4 3.1 q-1.8 -0.6 -2.6 -3.2z" fill="#c9dcf7" fill-opacity="0.55" stroke="#2d47ff" stroke-width="0.7" stroke-opacity="0.8"/>
<path d="M168.6 162.6 q0.4 -1.8 2.2 -2.3 l2.9 -0.1 l0.8 -0.6 l2.8 2.4 l-2.5 2.7 l-0.9 -0.4 q-2.2 1.5 -4 1.1 q-1.4 -0.5 -1.3 -2.8z" fill="#2d47ff"/></g></g>
<path d="M82.3 380.25 L84.7 382.75 L87.1 380.25" fill="none" stroke="#fff" stroke-width="0.9" stroke-linecap="round" stroke-linejoin="round"/>
<rect x="0" y="0" width="697" height="1.55" fill="#05052d"/><rect x="0" y="1.55" width="697" height="0.6" fill="#05052d" fill-opacity="0.25"/>
</svg>
<div id="texts">
<span class="t h" style="left:57.00px;top:20px;font-size:8.2px;color:#ffffff;letter-spacing:0.143px;">Судебное</span>
<span class="t" style="left:48.30px;top:30px;font-size:8.2px;color:#ffffff;letter-spacing:0.315px;">производство</span>
<span class="t h" style="left:146.30px;top:20px;font-size:8.2px;color:#505050;letter-spacing:0.186px;-webkit-text-stroke:0.1px #505050;">Исполнительное</span>
<span class="t" style="left:151.70px;top:30px;font-size:8.2px;color:#505050;letter-spacing:0.306px;-webkit-text-stroke:0.1px #505050;">производство</span>
<span class="t h" style="left:561.00px;top:61px;font-size:7px;color:#727272;letter-spacing:0.321px;text-decoration:underline;">Выбрать всё</span>
<span class="t h" style="left:569.20px;top:73px;font-size:7px;color:#727272;letter-spacing:0.443px;text-decoration:underline;">Изменить статус выбранных должников</span>
<span class="t" style="left:46.30px;top:107px;font-size:7px;color:#606060;letter-spacing:0.371px;">Выбрать все</span>
<span class="t h" style="left:122.00px;top:107px;font-size:9.8px;color:#595959;font-weight:700;letter-spacing:-0.464px;">ЛС / Договор</span>
<span class="t h" style="left:222.00px;top:107px;font-size:9.8px;color:#595959;font-weight:700;letter-spacing:-0.484px;">ФИО / Орг</span>
<span class="t" style="left:371.00px;top:96px;font-size:9.8px;color:#595959;font-weight:700;letter-spacing:-0.496px;">Дата</span>
<span class="t h" style="left:371.00px;top:107px;font-size:9.8px;color:#595959;font-weight:700;letter-spacing:-0.363px;">рожде</span>
<span class="t" style="left:371.00px;top:119px;font-size:9.8px;color:#595959;font-weight:700;letter-spacing:-1.236px;">ния</span>
<span class="t h" style="left:436.50px;top:107px;font-size:9.8px;color:#595959;font-weight:700;letter-spacing:-0.503px;">Мой статус</span>
<span class="t" style="left:511.00px;top:96px;font-size:9.8px;color:#595959;font-weight:700;letter-spacing:-0.496px;">Дата</span>
<span class="t h" style="left:511.00px;top:107px;font-size:9.8px;color:#595959;font-weight:700;letter-spacing:-0.589px;">составления</span>
<span class="t" style="left:511.00px;top:119px;font-size:9.8px;color:#595959;font-weight:700;letter-spacing:-0.440px;">реестра</span>
<span class="t" style="left:622.40px;top:96px;font-size:9.8px;color:#595959;font-weight:700;letter-spacing:-0.496px;">Дата</span>
<span class="t h" style="left:622.40px;top:107px;font-size:9.8px;color:#595959;font-weight:700;letter-spacing:-0.759px;">обновления</span>
<span class="t" style="left:622.40px;top:119px;font-size:9.8px;color:#595959;font-weight:700;letter-spacing:-0.848px;">фин. данных</span>
<span class="t" style="left:16.10px;top:145px;font-size:7px;color:#fff;font-weight:700;letter-spacing:0.079px;">Готов к подаче в</span>
<span class="t" style="left:16.10px;top:153px;font-size:7px;color:#fff;font-weight:700;letter-spacing:-0.081px;">суд</span>
<span class="t" style="left:16.10px;top:163px;font-size:6.4px;color:#d4f0ea;letter-spacing:0.008px;">Трек-номер получен</span>
<span class="t h" style="left:122.00px;top:146px;font-size:8.3px;color:#5080d6;letter-spacing:0.088px;-webkit-text-stroke:0.05px #5080d6;">6219961-10011766</span>
<span class="t" style="left:222.00px;top:154px;font-size:7px;color:#2f2f2f;letter-spacing:0.335px;-webkit-text-stroke:0.15px #2f2f2f;">Абаев Хайрбек Соскоевич</span>
<span class="t h" style="left:371.00px;top:153px;font-size:7.2px;color:#3d3d3d;letter-spacing:0.035px;-webkit-text-stroke:0.15px #3d3d3d;">13.04.1961</span>
<span class="t h" style="left:436.50px;top:153px;font-size:6.6px;color:#98adbe;letter-spacing:0.750px;font-style:italic;">Н/Д</span>
<span class="t h" style="left:511.00px;top:153px;font-size:6.6px;color:#98adbe;letter-spacing:0.750px;font-style:italic;">Н/Д</span>
<span class="t h" style="left:622.40px;top:153px;font-size:6.6px;color:#98adbe;letter-spacing:0.750px;font-style:italic;">Н/Д</span>
<span class="t h" style="left:16.10px;top:189px;font-size:7px;color:#fff;font-weight:700;letter-spacing:0.079px;">Готов к подаче в</span>
<span class="t h" style="left:16.10px;top:197px;font-size:7px;color:#fff;font-weight:700;letter-spacing:-0.081px;">суд</span>
<span class="t h" style="left:16.10px;top:207px;font-size:6.4px;color:#d4f0ea;letter-spacing:0.008px;">Трек-номер получен</span>
<span class="t" style="left:122.00px;top:191px;font-size:8.3px;color:#5080d6;letter-spacing:0.330px;-webkit-text-stroke:0.05px #5080d6;">223364-10012283</span>
<span class="t" style="left:222.00px;top:198px;font-size:7px;color:#2f2f2f;letter-spacing:0.332px;-webkit-text-stroke:0.15px #2f2f2f;">Абрамов Тельман Исакович</span>
<span class="t" style="left:371.00px;top:198px;font-size:7.2px;color:#3d3d3d;letter-spacing:0.035px;-webkit-text-stroke:0.15px #3d3d3d;">12.12.1976</span>
<span class="t" style="left:436.50px;top:198px;font-size:6.6px;color:#98adbe;letter-spacing:0.750px;font-style:italic;">Н/Д</span>
<span class="t" style="left:511.00px;top:198px;font-size:6.6px;color:#98adbe;letter-spacing:0.750px;font-style:italic;">Н/Д</span>
<span class="t" style="left:622.40px;top:198px;font-size:6.6px;color:#98adbe;letter-spacing:0.750px;font-style:italic;">Н/Д</span>
<span class="t" style="left:16.10px;top:234px;font-size:7px;color:#fff;font-weight:700;letter-spacing:0.079px;">Готов к подаче в</span>
<span class="t" style="left:16.10px;top:242px;font-size:7px;color:#fff;font-weight:700;letter-spacing:-0.081px;">суд</span>
<span class="t" style="left:16.10px;top:252px;font-size:6.4px;color:#d4f0ea;letter-spacing:0.008px;">Трек-номер получен</span>
<span class="t h" style="left:122.00px;top:235px;font-size:8.3px;color:#5080d6;letter-spacing:0.119px;-webkit-text-stroke:0.05px #5080d6;">90175129-10262312</span>
<span class="t" style="left:222.00px;top:243px;font-size:7px;color:#2f2f2f;letter-spacing:0.335px;-webkit-text-stroke:0.15px #2f2f2f;">Агалаков Михаил Николаевич</span>
<span class="t h" style="left:371.00px;top:242px;font-size:6.6px;color:#98adbe;letter-spacing:0.750px;font-style:italic;">Н/Д</span>
<span class="t h" style="left:436.50px;top:242px;font-size:6.6px;color:#98adbe;letter-spacing:0.750px;font-style:italic;">Н/Д</span>
<span class="t h" style="left:511.00px;top:242px;font-size:6.6px;color:#98adbe;letter-spacing:0.750px;font-style:italic;">Н/Д</span>
<span class="t h" style="left:622.40px;top:242px;font-size:6.6px;color:#98adbe;letter-spacing:0.750px;font-style:italic;">Н/Д</span>
<span class="t h" style="left:16.10px;top:278px;font-size:7px;color:#fff;font-weight:700;letter-spacing:0.079px;">Готов к подаче в</span>
<span class="t h" style="left:16.10px;top:286px;font-size:7px;color:#fff;font-weight:700;letter-spacing:-0.081px;">суд</span>
<span class="t h" style="left:16.10px;top:296px;font-size:6.4px;color:#d4f0ea;letter-spacing:0.008px;">Трек-номер получен</span>
<span class="t" style="left:122.00px;top:280px;font-size:8.3px;color:#5080d6;letter-spacing:0.369px;-webkit-text-stroke:0.05px #5080d6;">90060306-10257287</span>
<span class="t" style="left:222.00px;top:287px;font-size:7px;color:#2f2f2f;letter-spacing:0.336px;-webkit-text-stroke:0.15px #2f2f2f;">Агаларова Дурдана Рашид Кызы</span>
<span class="t" style="left:371.00px;top:287px;font-size:7.2px;color:#3d3d3d;letter-spacing:0.035px;-webkit-text-stroke:0.15px #3d3d3d;">10.04.1947</span>
<span class="t" style="left:436.50px;top:287px;font-size:6.6px;color:#c0c0c0;letter-spacing:0.750px;font-style:italic;">Н/Д</span>
<span class="t" style="left:511.00px;top:287px;font-size:6.6px;color:#c0c0c0;letter-spacing:0.750px;font-style:italic;">Н/Д</span>
<span class="t" style="left:622.40px;top:287px;font-size:6.6px;color:#c0c0c0;letter-spacing:0.750px;font-style:italic;">Н/Д</span>
<span class="t" style="left:16.10px;top:323px;font-size:7px;color:#fff;font-weight:700;letter-spacing:0.079px;">Готов к подаче в</span>
<span class="t" style="left:16.10px;top:331px;font-size:7px;color:#fff;font-weight:700;letter-spacing:-0.081px;">суд</span>
<span class="t" style="left:16.10px;top:341px;font-size:6.4px;color:#d4f0ea;letter-spacing:0.008px;">Трек-номер получен</span>
<span class="t h" style="left:122.00px;top:324px;font-size:8.3px;color:#5080d6;letter-spacing:0.275px;-webkit-text-stroke:0.05px #5080d6;">90038816-10253136</span>
<span class="t" style="left:222.00px;top:332px;font-size:7px;color:#2f2f2f;letter-spacing:0.333px;-webkit-text-stroke:0.15px #2f2f2f;">Агашова Севда Исмаил Кызы</span>
<span class="t h" style="left:371.00px;top:331px;font-size:7.2px;color:#3d3d3d;letter-spacing:0.035px;-webkit-text-stroke:0.15px #3d3d3d;">05.01.1976</span>
<span class="t h" style="left:436.50px;top:331px;font-size:6.6px;color:#c0c0c0;letter-spacing:0.750px;font-style:italic;">Н/Д</span>
<span class="t h" style="left:511.00px;top:331px;font-size:6.6px;color:#c0c0c0;letter-spacing:0.750px;font-style:italic;">Н/Д</span>
<span class="t h" style="left:622.40px;top:331px;font-size:6.6px;color:#c0c0c0;letter-spacing:0.750px;font-style:italic;">Н/Д</span>
<span class="t h" style="left:16.10px;top:367px;font-size:7px;color:#fff;font-weight:700;letter-spacing:0.079px;">Готов к подаче в</span>
<span class="t h" style="left:16.10px;top:375px;font-size:7px;color:#fff;font-weight:700;letter-spacing:-0.081px;">суд</span>
<span class="t h" style="left:16.10px;top:385px;font-size:6.4px;color:#d4f0ea;letter-spacing:0.008px;">Трек-номер получен</span>
<span class="t" style="left:122.00px;top:369px;font-size:8.3px;color:#5080d6;letter-spacing:0.369px;-webkit-text-stroke:0.05px #5080d6;">90069052-10257347</span>
<span class="t" style="left:222.00px;top:376px;font-size:7px;color:#2f2f2f;letter-spacing:0.299px;-webkit-text-stroke:0.15px #2f2f2f;">Агеева Галина Александровна</span>
<span class="t" style="left:371.00px;top:376px;font-size:7.2px;color:#3d3d3d;letter-spacing:0.035px;-webkit-text-stroke:0.15px #3d3d3d;">07.07.1953</span>
<span class="t" style="left:436.50px;top:376px;font-size:6.6px;color:#c0c0c0;letter-spacing:0.750px;font-style:italic;">Н/Д</span>
<span class="t" style="left:511.00px;top:376px;font-size:6.6px;color:#c0c0c0;letter-spacing:0.750px;font-style:italic;">Н/Д</span>
<span class="t" style="left:622.40px;top:376px;font-size:6.6px;color:#c0c0c0;letter-spacing:0.750px;font-style:italic;">Н/Д</span>
</div>
</div>
</body></html>
